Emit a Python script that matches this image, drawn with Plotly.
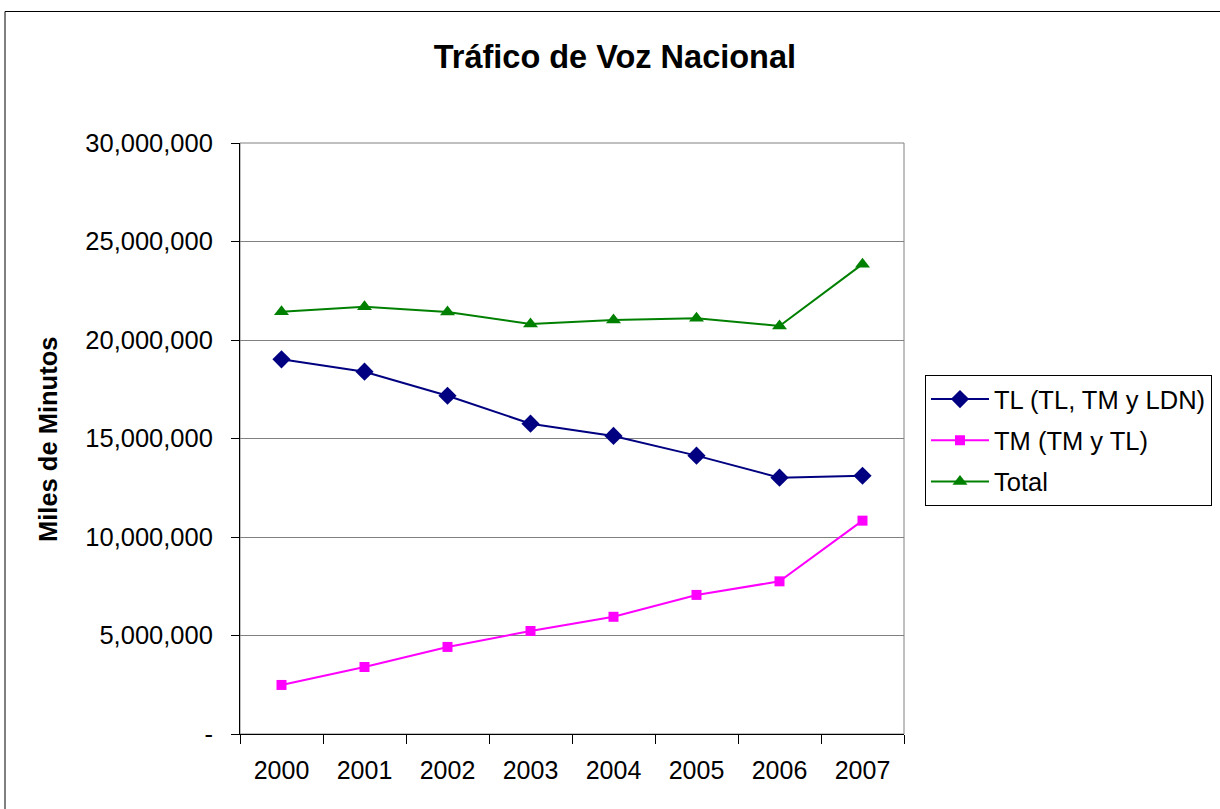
import plotly.graph_objects as go

years = ["2000", "2001", "2002", "2003", "2004", "2005", "2006", "2007"]
tl_values = [19020000, 18390000, 17170000, 15750000, 15130000, 14130000, 13010000, 13110000]
tm_values = [2490000, 3400000, 4420000, 5230000, 5950000, 7060000, 7750000, 10830000]
total_values = [21430000, 21690000, 21420000, 20810000, 21020000, 21110000, 20710000, 23850000]
y_tick_vals = [0, 5000000, 10000000, 15000000, 20000000, 25000000, 30000000]
y_tick_text = ["-", "5,000,000", "10,000,000", "15,000,000", "20,000,000", "25,000,000", "30,000,000"]

FONT = "Liberation Sans, Arial, sans-serif"
FS = 25.5

fig = go.Figure()
fig.add_trace(go.Scatter(x=years, y=tl_values, mode="lines+markers", name="TL (TL, TM y LDN)",
                         legendgroup="a",
                         line=dict(color="#000080", width=2),
                         marker=dict(symbol="diamond", size=14, color="#000080")))
fig.add_trace(go.Scatter(x=years, y=tm_values, mode="lines+markers", name="TM (TM y TL)",
                         legendgroup="b",
                         line=dict(color="#FF00FF", width=2),
                         marker=dict(symbol="square", size=10, color="#FF00FF")))
fig.add_trace(go.Scatter(x=years, y=total_values, mode="lines+markers", name="Total",
                         legendgroup="c",
                         line=dict(color="#008000", width=2),
                         marker=dict(symbol="triangle-up", size=13, color="#008000")))

fig.update_layout(
    width=1220, height=809,
    margin=dict(l=240, r=316, t=143, b=75, autoexpand=False),
    paper_bgcolor="white", plot_bgcolor="white",
    font=dict(family=FONT, size=FS, color="black"),
    title=dict(text="<b>Tráfico de Voz Nacional</b>", x=0.504, xanchor="center",
               y=1 - 57 / 809, yanchor="middle", font=dict(size=32.5, family=FONT, color="black")),
    showlegend=True,
    legend=dict(x=1.0316, xanchor="left", y=0.6074, yanchor="top",
                bordercolor="black", borderwidth=1, bgcolor="white",
                font=dict(size=FS, family=FONT), tracegroupgap=5, traceorder="grouped",
                itemwidth=58),
    xaxis=dict(type="category", range=[-0.5, 7.5], tickson="boundaries",
               ticks="outside", ticklen=9, tickcolor="black", showline=True,
               linecolor="black", linewidth=1, showgrid=False, ticklabelstandoff=14,
               tickfont=dict(size=25, family=FONT), fixedrange=True),
    yaxis=dict(range=[0, 30000000], tickvals=y_tick_vals, ticktext=y_tick_text,
               ticks="outside", ticklen=8, tickcolor="black", showline=True,
               linecolor="black", linewidth=1, showgrid=True, gridcolor="#808080",
               gridwidth=1, zeroline=False, tickfont=dict(size=FS, family=FONT),
               ticklabelstandoff=13, fixedrange=True),
    shapes=[
        dict(type="rect", xref="paper", yref="paper", x0=0, y0=0, x1=1, y1=1,
             line=dict(color="#808080", width=1), layer="below"),
        dict(type="rect", xref="paper", yref="paper", x0=(5 - 240) / 664, y0=-0.3,
             x1=1.6, y1=(734 - 11.5) / 591, line=dict(color="black", width=1), layer="below"),
    ],
    annotations=[
        dict(text="<b>Miles de Minutos</b>", xref="paper", yref="paper",
             x=(48 - 240) / 664, y=(734 - 440) / 591, textangle=-90, showarrow=False,
             xanchor="center", yanchor="middle", font=dict(size=FS, family=FONT, color="black")),
    ],
)

fig.write_html("out.html", config={"displayModeBar": False},
               post_script="document.body.style.margin='0';document.body.style.overflow='hidden';")
